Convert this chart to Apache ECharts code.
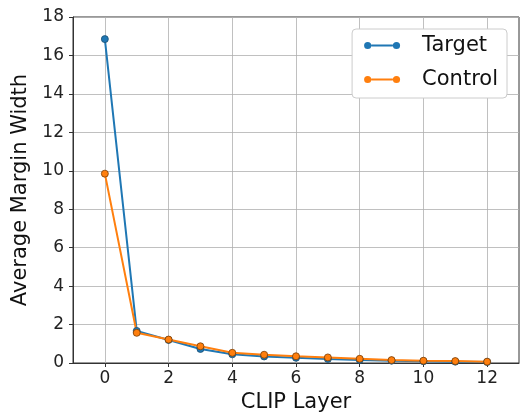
<!DOCTYPE html>
<html>
<head>
<meta charset="utf-8">
<script src="https://cdn.jsdelivr.net/npm/echarts@6/dist/echarts.min.js"></script>
<style>
  html, body { margin: 0; padding: 0; background: #fff; }
  #chart { width: 520px; height: 415px; }
</style>
</head>
<body>
<div id="chart"></div>
<script>
// axis slots run from -1 to 13 so the frame has a unit of margin on each side
const xSlots = ['-1', '0', '1', '2', '3', '4', '5', '6', '7', '8', '9', '10', '11', '12', '13']
const layers = [0, 1, 2, 3, 4, 5, 6, 7, 8, 9, 10, 11, 12]
const targetValues = [16.85, 1.67, 1.2, 0.73, 0.45, 0.34, 0.27, 0.21, 0.16, 0.12, 0.09, 0.07, 0.05]
const controlValues = [9.85, 1.57, 1.22, 0.87, 0.53, 0.43, 0.35, 0.29, 0.22, 0.15, 0.12, 0.1, 0.07]
const yTicks = [0, 2, 4, 6, 8, 10, 12, 14, 16, 18]

const font = 'DejaVu Sans'
// legend icon: a short line with a dot on each end
const lineDotIcon = 'path://M0.5,4a3.5,3.5 0 1,0 7,0a3.5,3.5 0 1,0 -7,0Z' +
  'M28.5,4a3.5,3.5 0 1,0 7,0a3.5,3.5 0 1,0 -7,0Z M7.5,3.1H28.5V4.9H7.5Z'

// show ticks/labels/grid only on even layers 0..12
const evenLayer = (idx, val) => {
  const n = Number(val)
  return n >= 0 && n <= 12 && n % 2 === 0
}

const pairs = vals => layers.map((l, i) => [String(l), vals[i]])

const chart = echarts.init(document.getElementById('chart'))
chart.setOption({
  animation: false,
  grid: {
    left: 73, right: 1, top: 17, bottom: 52,
    outerBoundsMode: 'none',
    containLabel: false,
    show: true, borderColor: '#333', borderWidth: 1
  },
  legend: {
    orient: 'vertical',
    right: 13,
    top: 29,
    icon: lineDotIcon,
    itemWidth: 36,
    itemHeight: 8,
    itemGap: 13,
    padding: [6, 9, 8, 12],
    borderColor: '#ccc',
    borderWidth: 1,
    borderRadius: 4,
    backgroundColor: '#fff',
    itemStyle: { borderWidth: 0 },
    textStyle: { fontFamily: font, fontSize: 21, color: '#111', padding: [0, 0, 0, 17] },
    data: ['Target', 'Control']
  },
  xAxis: {
    type: 'category',
    data: xSlots,
    boundaryGap: false,
    name: 'CLIP Layer',
    nameLocation: 'middle',
    nameGap: 28,
    nameTextStyle: { fontFamily: font, fontSize: 21, color: '#111' },
    axisLine: { lineStyle: { color: '#333', width: 1 } },
    axisTick: { interval: evenLayer, length: 4, lineStyle: { color: '#333' } },
    axisLabel: { interval: evenLayer, fontFamily: font, fontSize: 17, color: '#222', margin: 7 },
    splitLine: { show: true, interval: evenLayer, lineStyle: { color: '#b0b0b0', width: 0.8 } }
  },
  yAxis: {
    type: 'value',
    min: yTicks[0],
    max: yTicks[yTicks.length - 1],
    interval: 2,
    name: 'Average Margin Width',
    nameLocation: 'middle',
    nameGap: 38,
    nameTextStyle: { fontFamily: font, fontSize: 21, color: '#111' },
    axisLine: { show: true, lineStyle: { color: '#333', width: 1 } },
    axisTick: { show: true, length: 4, lineStyle: { color: '#333' } },
    axisLabel: { fontFamily: font, fontSize: 17, color: '#222', margin: 9 },
    splitLine: { show: true, lineStyle: { color: '#b0b0b0', width: 0.8 } }
  },
  series: [
    {
      name: 'Target',
      type: 'line',
      data: pairs(targetValues),
      symbol: 'circle',
      symbolSize: 7,
      color: '#1f77b4',
      lineStyle: { width: 2 },
      itemStyle: { borderColor: '#1b4f72', borderWidth: 0.8 }
    },
    {
      name: 'Control',
      type: 'line',
      data: pairs(controlValues),
      symbol: 'circle',
      symbolSize: 7,
      color: '#ff7f0e',
      lineStyle: { width: 2 },
      itemStyle: { borderColor: '#7a3d05', borderWidth: 0.8 }
    }
  ]
})
</script>
</body>
</html>
